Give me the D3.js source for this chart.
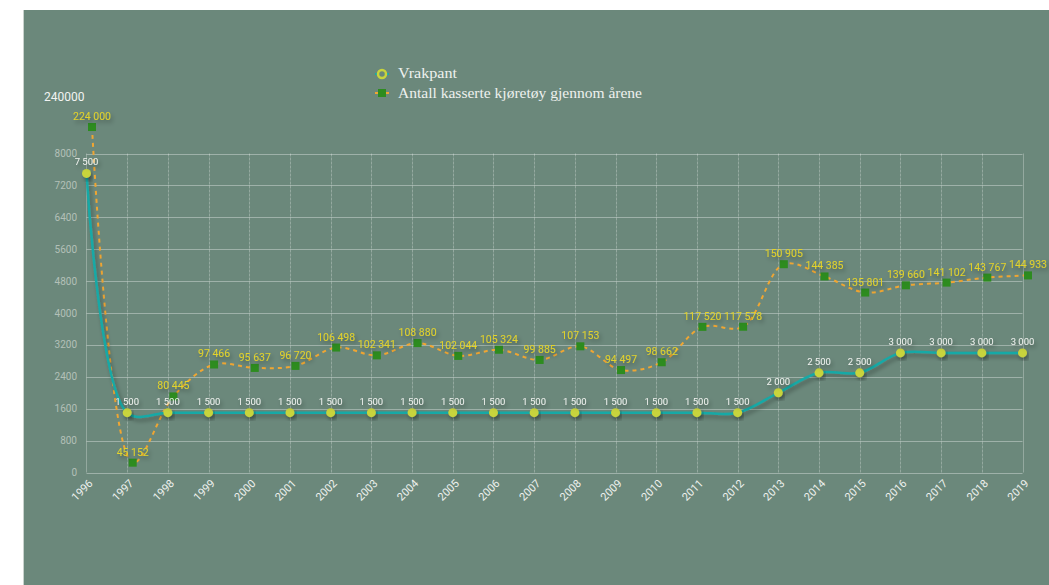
<!DOCTYPE html>
<html>
<head>
<meta charset="utf-8">
<script src="https://cdn.jsdelivr.net/npm/d3@7"></script>
<style>
  body { margin: 0; background: #fff; }
  svg { display: block; }
</style>
</head>
<body>
<div id="chart"></div>
<script>
// data
const years = d3.range(1996, 2020).map(String);
const vrakpant = [7500, 1500, 1500, 1500, 1500, 1500, 1500, 1500, 1500, 1500, 1500, 1500,
    1500, 1500, 1500, 1500, 1500, 2000, 2500, 2500, 3000, 3000, 3000, 3000];
const kasserte = [224000, 45152, 80445, 97466, 95637, 96720, 106498, 102341, 108880, 102044,
    105324, 99885, 107153, 94497, 98662, 117520, 117578, 150905, 144385, 135801, 139660,
    141102, 143767, 144933];
const yTicks = d3.range(0, 8001, 800);
const legendLabels = ['Vrakpant', 'Antall kasserte kjøretøy gjennom årene'];
const legendWidths = [59, 244];

const width = 1049, height = 585;
const plot = {left: 86.5, right: 1022.5, top: 153.5, bottom: 472.5};

const svg = d3.select('#chart').append('svg')
    .attr('width', width)
    .attr('height', height);

const defs = svg.append('defs');
const shadow = defs.append('filter').attr('id', 'shadow')
    .attr('x', '-20%').attr('y', '-20%').attr('width', '140%').attr('height', '160%');
shadow.append('feDropShadow')
    .attr('dx', 2).attr('dy', 3).attr('stdDeviation', 2)
    .attr('flood-color', '#000').attr('flood-opacity', 0.35);

// panel
svg.append('rect')
    .attr('x', 23).attr('y', 10)
    .attr('width', width - 23).attr('height', height - 10)
    .attr('fill', '#6b887b');
svg.append('line')
    .attr('x1', 23.5).attr('x2', 23.5).attr('y1', 10).attr('y2', height)
    .attr('stroke', '#c9d2cd').attr('stroke-width', 1);

const x = d3.scalePoint().domain(years).range([plot.left, plot.right]);
const y = d3.scaleLinear().domain([0, 8000]).range([plot.bottom, plot.top]);
// second axis, only its max label is shown
const y2 = d3.scaleLinear().domain([0, 240000]).range([547.4, 97]);

const fmt = v => d3.format(',')(v).replace(/,/g, ' ');

// grid
const grid = svg.append('g');
grid.selectAll('.h').data(yTicks).enter().append('line')
    .attr('x1', plot.left).attr('x2', plot.right)
    .attr('y1', d => Math.round(y(d)) + 0.5).attr('y2', d => Math.round(y(d)) + 0.5)
    .attr('stroke', 'rgba(255,255,255,0.35)').attr('stroke-width', 1);
grid.selectAll('.v').data(years).enter().append('line')
    .attr('x1', d => Math.round(x(d)) + 0.5).attr('x2', d => Math.round(x(d)) + 0.5)
    .attr('y1', plot.top).attr('y2', plot.bottom)
    .attr('stroke', 'rgba(255,255,255,0.28)').attr('stroke-width', 1)
    .attr('stroke-dasharray', (d, i) => (i === 0 || i === years.length - 1) ? null : '3,1');

// y axis labels
svg.append('g').selectAll('text').data(yTicks).enter().append('text')
    .attr('x', 77).attr('y', d => y(d) + 3.5)
    .attr('text-anchor', 'end')
    .attr('font-family', 'Roboto, sans-serif').attr('font-size', 10)
    .attr('fill', '#b3c0b8')
    .text(d => d);

svg.append('text')
    .attr('x', 44).attr('y', y2(240000) + 4)
    .attr('font-family', 'Roboto, sans-serif').attr('font-size', 12)
    .attr('fill', '#f2f4f2')
    .text('240000');

// x axis labels
svg.append('g').selectAll('text').data(years).enter().append('text')
    .attr('transform', d => 'translate(' + (x(d) + 7) + ',' + 484 + ') rotate(-45)')
    .attr('text-anchor', 'end')
    .attr('font-family', 'Roboto, sans-serif').attr('font-size', 11)
    .attr('fill', '#eef1ee')
    .text(d => d);

// kasserte series (dashed, on second axis)
const kx = d => x(d) + 5.5;
const kline = d3.line()
    .x((d, i) => kx(years[i]))
    .y(d => y2(d))
    .curve(d3.curveCatmullRom.alpha(0.5));

svg.append('path')
    .datum(kasserte)
    .attr('d', kline)
    .attr('fill', 'none')
    .attr('stroke', '#efa633').attr('stroke-width', 2)
    .attr('stroke-dasharray', '4,4');

// vrakpant series
const vline = d3.line()
    .x((d, i) => x(years[i]))
    .y(d => y(d))
    .curve(d3.curveCatmullRom.alpha(0.5));

svg.append('path')
    .datum(vrakpant)
    .attr('d', vline)
    .attr('fill', 'none')
    .attr('stroke', '#17a9a6').attr('stroke-width', 2.5)
    .attr('filter', 'url(#shadow)');

svg.append('g').selectAll('circle').data(vrakpant).enter().append('circle')
    .attr('cx', (d, i) => x(years[i]))
    .attr('cy', d => y(d))
    .attr('r', 4.5)
    .attr('fill', '#c8d43c')
    .attr('filter', 'url(#shadow)');

svg.append('g').selectAll('rect').data(kasserte).enter().append('rect')
    .attr('x', (d, i) => kx(years[i]) - 4)
    .attr('y', d => y2(d) - 4)
    .attr('width', 8).attr('height', 8)
    .attr('fill', '#2d8c1f');

// value labels
svg.append('g').selectAll('text').data(vrakpant).enter().append('text')
    .attr('x', (d, i) => x(years[i]))
    .attr('y', d => y(d) - 8)
    .attr('text-anchor', 'middle')
    .attr('font-family', 'Roboto, sans-serif').attr('font-size', 9.5)
    .attr('fill', '#f0f2ef')
    .attr('filter', 'url(#shadow)')
    .text(d => fmt(d));

svg.append('g').selectAll('text').data(kasserte).enter().append('text')
    .attr('x', (d, i) => kx(years[i]))
    .attr('y', d => y2(d) - 7)
    .attr('text-anchor', 'middle')
    .attr('font-family', 'Roboto, sans-serif').attr('font-size', 10.5)
    .attr('fill', '#e3d22a')
    .attr('filter', 'url(#shadow)')
    .text(d => fmt(d));

// legend
const legend = svg.append('g');
legend.append('line')
    .attr('x1', 375).attr('x2', 389).attr('y1', 74).attr('y2', 74)
    .attr('stroke', '#17a9a6').attr('stroke-width', 2);
legend.append('circle')
    .attr('cx', 382).attr('cy', 74).attr('r', 4)
    .attr('fill', '#6b887b').attr('stroke', '#c8d43c').attr('stroke-width', 2.5);
legend.append('line')
    .attr('x1', 375).attr('x2', 389).attr('y1', 93).attr('y2', 93)
    .attr('stroke', '#efa633').attr('stroke-width', 2);
legend.append('rect')
    .attr('x', 378).attr('y', 89).attr('width', 8).attr('height', 8)
    .attr('fill', '#2d8c1f');
legend.selectAll('text').data(legendLabels).enter().append('text')
    .attr('x', 398).attr('y', (d, i) => 78 + i * 19.5)
    .attr('font-family', '"Liberation Serif", serif').attr('font-size', 15)
    .attr('textLength', (d, i) => legendWidths[i])
    .attr('lengthAdjust', 'spacingAndGlyphs')
    .attr('fill', '#eef1ee')
    .text(d => d);
</script>
</body>
</html>
